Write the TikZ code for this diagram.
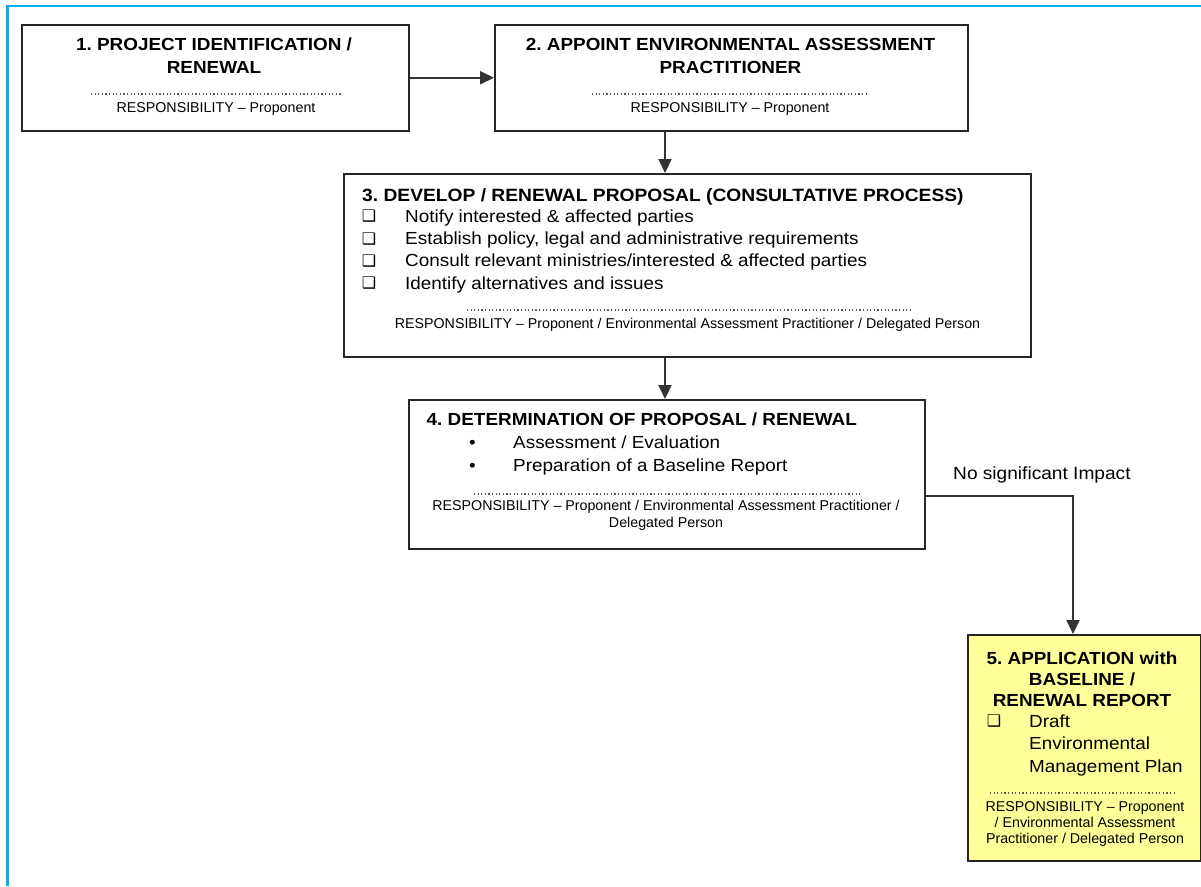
\documentclass[tikz,border=0pt]{standalone}
\usepackage{fontspec}
\setmainfont{Liberation Sans}
\newfontfamily\widefont{Liberation Sans}[FakeStretch=1.08]
\newfontfamily\symfont{DejaVu Sans}
\usetikzlibrary{arrows.meta,calc}
\definecolor{frameblue}{HTML}{00B0F0}
\definecolor{boxyellow}{HTML}{FFFF99}
\frenchspacing
\begin{document}
\begin{tikzpicture}[x=1pt,y=-1pt,
  box/.style={draw=black!85, line width=1.5pt, anchor=north west, inner sep=0pt},
  arr/.style={draw=black!80, line width=2pt, -{Triangle[length=14pt,width=13pt]}},
  head/.style={font=\widefont\bfseries\fontsize{17.5}{23}\selectfont, align=center, inner sep=0pt, anchor=base},
  headl/.style={font=\widefont\bfseries\fontsize{17.5}{23}\selectfont, inner sep=0pt, anchor=base west},
  item/.style={font=\widefont\fontsize{17.5}{22}\selectfont, inner sep=0pt, anchor=base west},
  bul/.style={font=\symfont\fontsize{16}{18}\selectfont, inner sep=0pt, anchor=base},
  resp/.style={font=\fontsize{14.25}{17}\selectfont, align=center, inner sep=0pt, anchor=base},
  dots/.style={draw=black!65, line width=1.1pt, dash pattern=on 1.1pt off 2.5pt},
  lbl/.style={font=\widefont\fontsize{17.7}{20}\selectfont, inner sep=0pt, anchor=base west},
]
\useasboundingbox (0,0) rectangle (1201,886);
% outer frame
\draw[frameblue, line width=2.5pt] (7.5,886) -- (7.5,6) -- (1201,6);

% boxes
\node[box, minimum width=387pt, minimum height=106pt] (b1) at (21,24) {};
\node[box, minimum width=473pt, minimum height=106pt] (b2) at (494,24) {};
\node[box, minimum width=687pt, minimum height=183pt] (b3) at (343,173) {};
\node[box, minimum width=516pt, minimum height=149pt] (b4) at (408,399) {};
\node[box, fill=boxyellow, minimum width=233pt, minimum height=226pt] (b5) at (967,634) {};

% box 1
\node[head] (t1) at (214,73) {1. PROJECT IDENTIFICATION /\\RENEWAL};
\draw[dots] (91,94) -- (341,94);
\node[resp] (r1) at (216,112) {RESPONSIBILITY -- Proponent};

% box 2
\node[head] (t2) at (730.5,73) {2. APPOINT ENVIRONMENTAL ASSESSMENT\\PRACTITIONER};
\draw[dots] (592,94) -- (868,94);
\node[resp] (r2) at (730,112) {RESPONSIBILITY -- Proponent};

% box 3
\node[headl, font=\widefont\bfseries\fontsize{17.8}{23}\selectfont] (t3) at (362,201) {3. DEVELOP / RENEWAL PROPOSAL (CONSULTATIVE PROCESS)};
\node[bul] (q31) at (369,221.5) {❑};
\node[item] (i31) at (405,222) {Notify interested \& affected parties};
\node[bul] (q32) at (369,244) {❑};
\node[item] (i32) at (405,244.3) {Establish policy, legal and administrative requirements};
\node[bul] (q33) at (369,266.5) {❑};
\node[item] (i33) at (405,266.7) {Consult relevant ministries/interested \& affected parties};
\node[bul] (q34) at (369,288.8) {❑};
\node[item] (i34) at (405,289) {Identify alternatives and issues};
\draw[dots] (467,310) -- (910,310);
\node[resp] (r3) at (687.5,328) {RESPONSIBILITY -- Proponent / Environmental Assessment Practitioner / Delegated Person};

% box 4
\node[headl] (t4) at (426.5,425) {4. DETERMINATION OF PROPOSAL / RENEWAL};
\node[item] (p41) at (469,448) {•};
\node[item] (i41) at (513,448) {Assessment / Evaluation};
\node[item] (p42) at (469,471) {•};
\node[item] (i42) at (513,471) {Preparation of a Baseline Report};
\draw[dots] (474,494) -- (860,494);
\node[resp] (r4) at (666,527) {RESPONSIBILITY -- Proponent / Environmental Assessment Practitioner /\\Delegated Person};

% box 5
\node[head, font=\widefont\bfseries\fontsize{17.5}{21}\selectfont] (t5) at (1082,706) {5. APPLICATION with\\BASELINE /\\RENEWAL REPORT};
\node[bul] (q51) at (994,726.5) {❑};
\node[item, align=left, font=\widefont\fontsize{17.5}{22.5}\selectfont] (i51) at (1029,772) {Draft\\Environmental\\Management Plan};
\draw[dots] (990,793) -- (1176,793);
\node[resp, font=\fontsize{14.25}{15.7}\selectfont] (r5) at (1085,843) {RESPONSIBILITY -- Proponent\\/ Environmental Assessment\\Practitioner / Delegated Person};

% connectors
\coordinate (c23) at (665,0);
\coordinate (turn) at (1073,496);
\draw[arr] (b1.east) -- (b2.west);
\draw[arr] (c23 |- b2.south) -- (c23 |- b3.north);
\draw[arr] (c23 |- b3.south) -- (c23 |- b4.north);
\draw[arr] (b4.east |- turn) -- (turn) -- (turn |- b5.north);
\node[lbl] (nsi) at (953,479) {No significant Impact};
\end{tikzpicture}
\end{document}
